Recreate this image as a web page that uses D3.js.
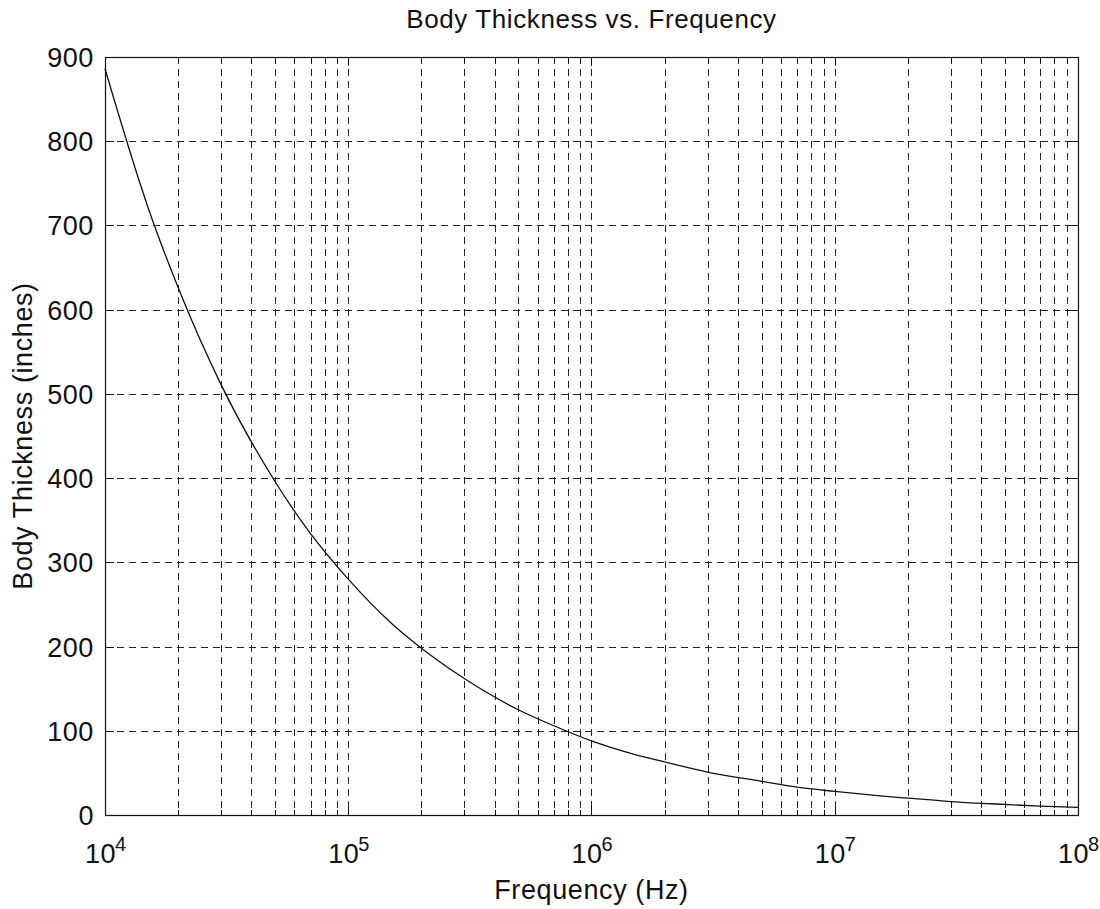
<!DOCTYPE html>
<html>
<head>
<meta charset="utf-8">
<script src="https://cdn.jsdelivr.net/npm/d3@7"></script>
<style>
  body { margin: 0; background: #fff; }
  text { font-family: "Liberation Sans", Arial, sans-serif; fill: #111; letter-spacing: 0.6px; }
</style>
</head>
<body>
<svg width="1100" height="909"></svg>
<script>
// values
var freqs = [1e4, 1.5e4, 2e4, 3e4, 5e4, 7e4, 1e5, 1.5e5, 2e5, 3e5, 5e5, 7e5,
             1e6, 1.5e6, 2e6, 3e6, 5e6, 7e6, 1e7, 1.5e7, 2e7, 3e7, 5e7, 7e7, 1e8];
var thickness = [886, 722, 626, 511, 396, 334, 280, 228, 198, 162, 125, 106,
                 88, 72, 63, 51, 40, 33, 28, 23, 20, 16, 12.5, 10.5, 9];
var yTicks = [0, 100, 200, 300, 400, 500, 600, 700, 800, 900];
var decades = [4, 5, 6, 7, 8];

var svg = d3.select("svg");
var pLeft = 105, pRight = 1078, pTop = 57, pBottom = 815;

var x = d3.scaleLog().domain([1e4, 1e8]).range([pLeft, pRight]);
var y = d3.scaleLinear().domain([0, 900]).range([pBottom, pTop]);

// all minor + major positions on the log axis
var xGrid = [];
decades.forEach(function (d) {
    for (var m = 1; m <= 9; m++) {
        var v = m * Math.pow(10, d);
        if (v > 1e4 && v < 1e8) xGrid.push(v);
    }
});

var grid = svg.append("g")
    .attr("stroke", "#222")
    .attr("stroke-width", 1)
    .attr("stroke-dasharray", "7,5");

grid.selectAll("line.xg")
    .data(xGrid)
    .enter().append("line")
    .attr("class", "xg")
    .attr("x1", function (d) { return Math.round(x(d)) + 0.5; })
    .attr("x2", function (d) { return Math.round(x(d)) + 0.5; })
    .attr("y1", pTop)
    .attr("y2", pBottom);

grid.selectAll("line.yg")
    .data(yTicks.slice(1, -1))
    .enter().append("line")
    .attr("class", "yg")
    .attr("x1", pLeft)
    .attr("x2", pRight)
    .attr("y1", function (d) { return Math.round(y(d)) + 0.5; })
    .attr("y2", function (d) { return Math.round(y(d)) + 0.5; });

// frame
svg.append("rect")
    .attr("x", pLeft + 0.5)
    .attr("y", pTop + 0.5)
    .attr("width", pRight - pLeft)
    .attr("height", pBottom - pTop)
    .attr("fill", "none")
    .attr("stroke", "#111")
    .attr("stroke-width", 1.2);

// inward ticks on all four sides
var ticks = svg.append("g").attr("stroke", "#111").attr("stroke-width", 1);
xGrid.concat([1e4, 1e8]).forEach(function (v) {
    var len = (Math.log10(v) % 1 === 0) ? 9 : 5;
    var px = Math.round(x(v)) + 0.5;
    ticks.append("line").attr("x1", px).attr("x2", px).attr("y1", pBottom).attr("y2", pBottom - len);
    ticks.append("line").attr("x1", px).attr("x2", px).attr("y1", pTop).attr("y2", pTop + len);
});
yTicks.forEach(function (v) {
    var py = Math.round(y(v)) + 0.5;
    ticks.append("line").attr("x1", pLeft).attr("x2", pLeft + 9).attr("y1", py).attr("y2", py);
    ticks.append("line").attr("x1", pRight).attr("x2", pRight - 9).attr("y1", py).attr("y2", py);
});

// y tick labels
svg.selectAll("text.yl")
    .data(yTicks)
    .enter().append("text")
    .attr("class", "yl")
    .attr("x", pLeft - 11)
    .attr("y", function (d) { return y(d) + 10; })
    .attr("text-anchor", "end")
    .style("font-size", "27px")
    .text(function (d) { return d; });

// x tick labels: 10^n
var xl = svg.selectAll("g.xl")
    .data(decades)
    .enter().append("g")
    .attr("class", "xl")
    .attr("transform", function (d) { return "translate(" + x(Math.pow(10, d)) + ",863)"; });
xl.append("text")
    .attr("x", -20)
    .attr("y", 0)
    .style("font-size", "27px")
    .text("10");
xl.append("text")
    .attr("x", 10)
    .attr("y", -12)
    .style("font-size", "20px")
    .style("letter-spacing", "0px")
    .text(function (d) { return d; });

// curve
var line = d3.line()
    .x(function (d, i) { return x(freqs[i]); })
    .y(function (d) { return y(d); })
    .curve(d3.curveMonotoneX);

svg.append("path")
    .datum(thickness)
    .attr("d", line)
    .attr("fill", "none")
    .attr("stroke", "#111")
    .attr("stroke-width", 1.3);

// titles
svg.append("text")
    .attr("x", (pLeft + pRight) / 2)
    .attr("y", 28)
    .attr("text-anchor", "middle")
    .style("font-size", "26px")
    .text("Body Thickness vs. Frequency");

svg.append("text")
    .attr("x", (pLeft + pRight) / 2)
    .attr("y", 899)
    .attr("text-anchor", "middle")
    .style("font-size", "27px")
    .text("Frequency (Hz)");

svg.append("text")
    .attr("transform", "translate(32," + (pTop + pBottom) / 2 + ") rotate(-90)")
    .attr("text-anchor", "middle")
    .style("font-size", "27px")
    .text("Body Thickness (inches)");
</script>
</body>
</html>
